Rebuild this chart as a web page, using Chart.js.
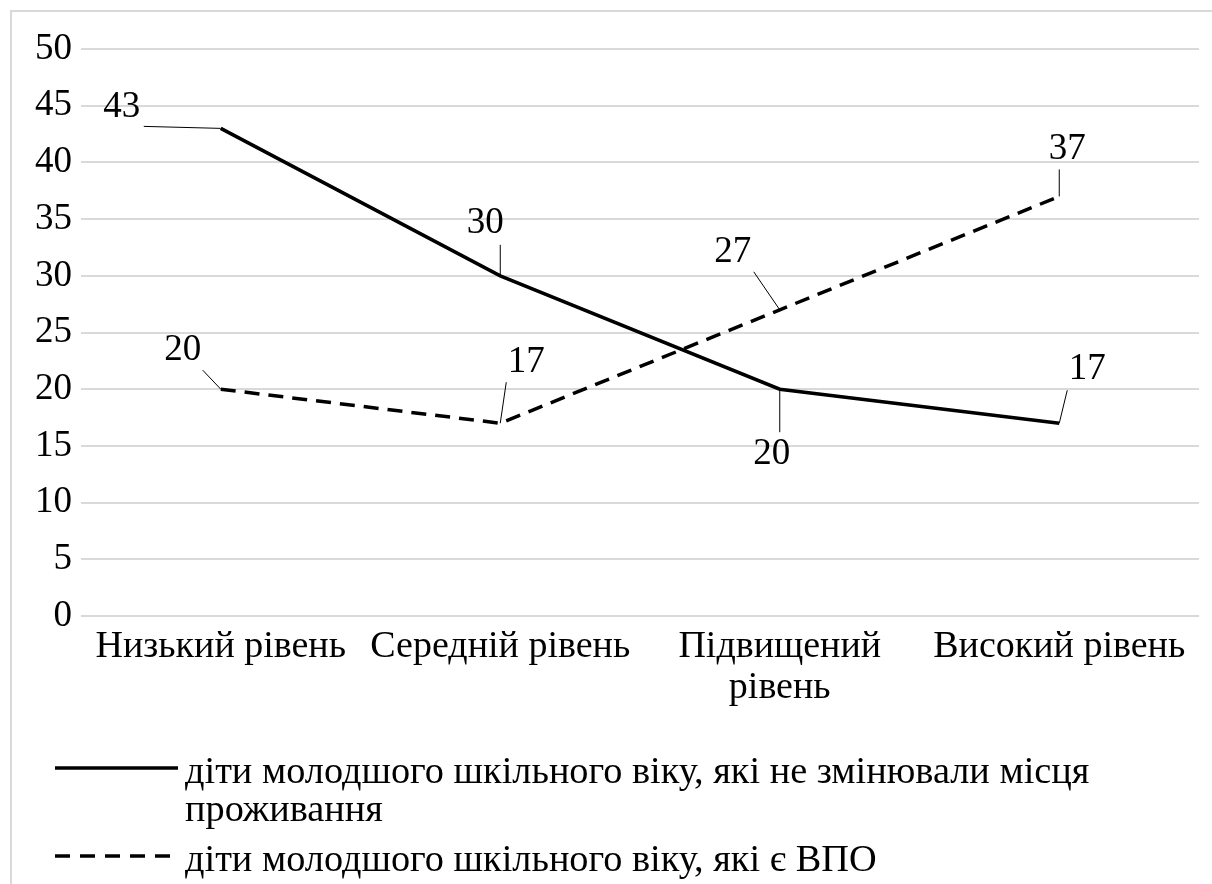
<!DOCTYPE html>
<html>
<head>
<meta charset="utf-8">
<script src="https://cdn.jsdelivr.net/npm/chart.js@4.4.1/dist/chart.umd.min.js"></script>
<style>
  body { margin: 0; background: #fff; }
  #frame { position: absolute; left: 10px; top: 10px; width: 1230px; height: 900px;
           border-left: 2px solid #d9d9d9; border-top: 2px solid #d9d9d9; }
  #chart { position: absolute; left: 0; top: 0; }
</style>
</head>
<body>
<div id="frame"></div>
<canvas id="chart" width="1212" height="884"></canvas>
<script>
const levels = ["Низький рівень", "Середній рівень", ["Підвищений", "рівень"], "Високий рівень"];
const stayed = [43, 30, 20, 17];
const displaced = [20, 17, 27, 37];
const seriesNames = [
  "діти молодшого шкільного віку, які не змінювали місця проживання",
  "діти молодшого шкільного віку, які є ВПО"
];

// label placement: [text dx, text dy, leader start dx, leader start dy]
const labelOffsets = [
  [[-99, -21, -77, -2], [-15, -53, 0, -31], [-8, 65, 0, 43], [28, -54, 8, -33]],
  [[-38, -39, -18, -19], [26, -61, 6, -41], [-47, -58, -26, -38], [8, -47, 0, -27]]
];
const dashes = [[], [15, 9]];

const FONT = "'Liberation Serif', 'Times New Roman', serif";

const pointLabels = {
  id: "pointLabels",
  afterDatasetsDraw(chart) {
    const ctx = chart.ctx;
    ctx.save();
    ctx.font = "37px " + FONT;
    ctx.textAlign = "center";
    ctx.textBaseline = "middle";
    ctx.fillStyle = "#000";
    ctx.strokeStyle = "#000";
    ctx.lineWidth = 1;
    chart.data.datasets.forEach(function (ds, i) {
      chart.getDatasetMeta(i).data.forEach(function (pt, j) {
        const o = labelOffsets[i][j];
        ctx.beginPath();
        ctx.moveTo(pt.x + o[2], pt.y + o[3]);
        ctx.lineTo(pt.x, pt.y);
        ctx.stroke();
        ctx.fillText(ds.data[j], pt.x + o[0], pt.y + o[1]);
      });
    });
    ctx.restore();
  }
};

function wrap(ctx, text, maxWidth) {
  const words = text.split(" ");
  const lines = [];
  let line = "";
  words.forEach(function (w) {
    const test = line ? line + " " + w : w;
    if (ctx.measureText(test).width > maxWidth && line) {
      lines.push(line);
      line = w;
    } else {
      line = test;
    }
  });
  lines.push(line);
  return lines;
}

const bottomLegend = {
  id: "bottomLegend",
  afterDraw(chart) {
    const ctx = chart.ctx;
    ctx.save();
    ctx.font = "38.3px " + FONT;
    ctx.textAlign = "left";
    ctx.textBaseline = "alphabetic";
    ctx.fillStyle = "#000";
    let y = 783;
    chart.data.datasets.forEach(function (ds, i) {
      ctx.beginPath();
      ctx.setLineDash(i === 1 ? [15, 10] : []);
      ctx.lineWidth = 3.5;
      ctx.strokeStyle = "#000";
      ctx.moveTo(55, y - 15);
      ctx.lineTo(178, y - 15);
      ctx.stroke();
      ctx.setLineDash([]);
      const lines = wrap(ctx, ds.label, 1000);
      lines.forEach(function (l, k) {
        ctx.fillText(l, 185, y + k * 38);
      });
      y += (lines.length - 1) * 38 + 50;
    });
    ctx.restore();
  }
};

new Chart(document.getElementById("chart"), {
  type: "line",
  data: {
    labels: levels,
    datasets: [
      {
        label: seriesNames[0],
        data: stayed,
        borderColor: "#000",
        borderWidth: 3.5,
        borderDash: dashes[0],
        pointRadius: 0,
        fill: false,
      },
      {
        label: seriesNames[1],
        data: displaced,
        borderColor: "#000",
        borderWidth: 3.5,
        borderDash: dashes[1],
        pointRadius: 0,
        fill: false,
      },
    ],
  },
  plugins: [pointLabels, bottomLegend],
  options: {
    responsive: false,
    animation: false,
    devicePixelRatio: 1,
    layout: { padding: { top: 49, right: 13, bottom: 168, left: 0 } },
    plugins: {
      legend: { display: false },
      tooltip: { enabled: false },
    },
    scales: {
      x: {
        offset: true,
        grid: { display: false, drawTicks: false },
        border: { display: false },
        ticks: {
          color: "#000",
          padding: 10,
          maxRotation: 0,
          autoSkip: false,
          font: { family: FONT, size: 38, lineHeight: 1.08 },
        },
        afterFit: function (scale) { scale.height = 100; },
      },
      y: {
        min: 0,
        max: 50,
        grid: { color: "#d9d9d9", lineWidth: 2, drawTicks: false },
        border: { display: false },
        ticks: {
          stepSize: 5,
          color: "#000",
          padding: 9,
          font: { family: FONT, size: 37 },
        },
        afterFit: function (scale) { scale.width = 81; },
      },
    },
  },
});
</script>
</body>
</html>
